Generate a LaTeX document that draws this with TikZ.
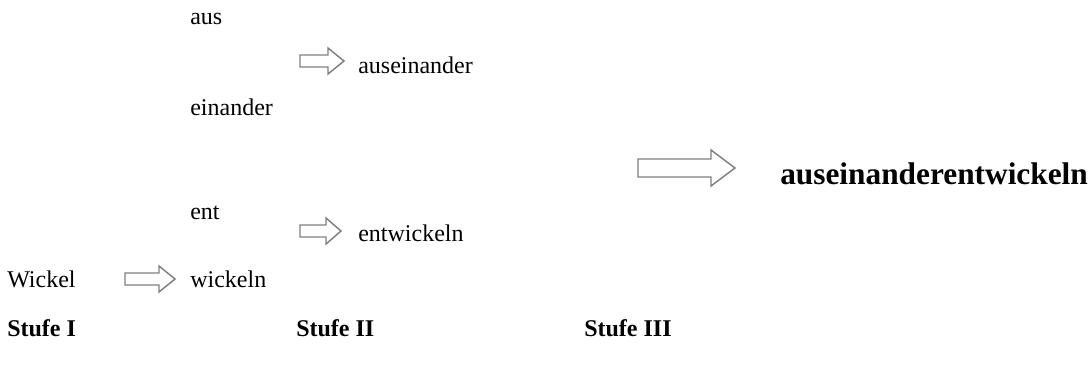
\documentclass[tikz,border=0pt]{standalone}
\usepackage{fontspec}
\setmainfont{Liberation Serif}
\definecolor{arrowgray}{RGB}{128,128,128}
\begin{document}
\begin{tikzpicture}[x=0.75pt,y=-0.75pt,
  lbl/.style={anchor=base west, inner sep=0, font=\fontsize{18}{20}\selectfont},
  bigl/.style={anchor=base west, inner sep=0, font=\fontsize{23.5}{26}\selectfont\bfseries},
  stufe/.style={anchor=base west, inner sep=0, font=\fontsize{18}{20}\selectfont\bfseries},
  barrow/.style={draw=arrowgray, line width=1.1pt, fill=white, line join=miter}]
\useasboundingbox (0,0) rectangle (1092,372);
% texts
\node[lbl] (aus) at (190,24) {aus};
\node[lbl] (auseinander) at (358,73) {auseinander};
\node[lbl] (einander) at (190,115) {einander};
\node[bigl] (result) at (780,184) {auseinanderentwickeln};
\node[lbl] (ent) at (190,219) {ent};
\node[lbl] (entwickeln) at (358,241) {entwickeln};
\node[lbl] (Wickel) at (7,287) {Wickel};
\node[lbl] (wickeln) at (190,287) {wickeln};
\node[stufe] (s1) at (7,336) {Stufe I};
\node[stufe] (s2) at (296,336) {Stufe II};
\node[stufe] (s3) at (584,336) {Stufe III};
% block arrows
\draw[barrow] (300,55) -- (328,55) -- (328,48) -- (344,61) -- (328,74) -- (328,67) -- (300,67) -- cycle;
\draw[barrow] (300,225) -- (326,225) -- (326,218) -- (341,231) -- (326,244) -- (326,237) -- (300,237) -- cycle;
\draw[barrow] (125,273) -- (159,273) -- (159,266) -- (175,279) -- (159,292) -- (159,285) -- (125,285) -- cycle;
\draw[barrow] (638,159) -- (711,159) -- (711,150) -- (735,168) -- (711,186) -- (711,177) -- (638,177) -- cycle;
\end{tikzpicture}
\end{document}
